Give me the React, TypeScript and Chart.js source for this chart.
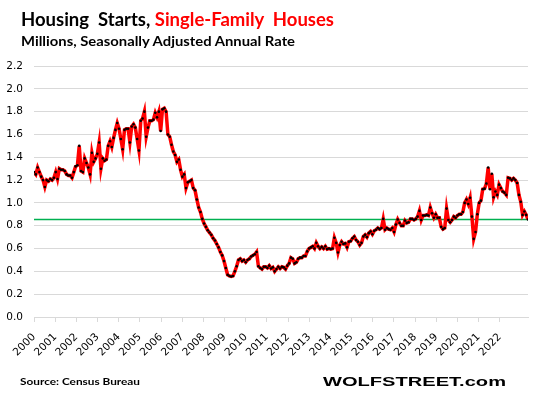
import React, { useEffect, useLayoutEffect, useRef } from "react";
import { Chart, registerables } from "chart.js";

Chart.register(...registerables);

// Year tick labels
const yearLabels = [
  "2000", "2001", "2002", "2003", "2004", "2005", "2006", "2007", "2008", "2009", "2010", "2011",
  "2012", "2013", "2014", "2015", "2016", "2017", "2018", "2019", "2020", "2021", "2022",
];

// Single-family housing starts, millions SAAR, monthly
const s2000 = [1.27, 1.25, 1.31, 1.27, 1.23, 1.2, 1.14, 1.2, 1.19, 1.21, 1.2, 1.22];
const s2001 = [1.27, 1.21, 1.3, 1.29, 1.29, 1.28, 1.25, 1.24, 1.24, 1.22, 1.27, 1.32];
const s2002 = [1.33, 1.5, 1.28, 1.27, 1.39, 1.35, 1.31, 1.25, 1.44, 1.36, 1.39, 1.43];
const s2003 = [1.53, 1.3, 1.39, 1.37, 1.38, 1.5, 1.54, 1.49, 1.57, 1.64, 1.7, 1.65];
const s2004 = [1.56, 1.47, 1.64, 1.65, 1.65, 1.53, 1.67, 1.69, 1.66, 1.56, 1.46, 1.72];
const s2005 = [1.74, 1.8, 1.58, 1.66, 1.72, 1.72, 1.73, 1.79, 1.75, 1.8, 1.63, 1.82];
const s2006 = [1.83, 1.8, 1.6, 1.58, 1.51, 1.45, 1.42, 1.36, 1.38, 1.29, 1.23, 1.25];
const s2007 = [1.13, 1.18, 1.19, 1.2, 1.13, 1.11, 1.03, 0.96, 0.92, 0.86, 0.82, 0.79];
const s2008 = [0.76, 0.74, 0.72, 0.69, 0.67, 0.64, 0.61, 0.57, 0.54, 0.49, 0.43, 0.37];
const s2009 = [0.36, 0.355, 0.36, 0.4, 0.445, 0.5, 0.51, 0.49, 0.5, 0.48, 0.5, 0.51];
const s2010 = [0.53, 0.54, 0.55, 0.57, 0.445, 0.43, 0.42, 0.44, 0.44, 0.43, 0.45, 0.425];
const s2011 = [0.435, 0.4, 0.42, 0.44, 0.425, 0.44, 0.435, 0.42, 0.45, 0.47, 0.52, 0.51];
const s2012 = [0.47, 0.48, 0.51, 0.52, 0.52, 0.535, 0.535, 0.575, 0.6, 0.61, 0.62, 0.6];
const s2013 = [0.65, 0.62, 0.6, 0.615, 0.6, 0.62, 0.595, 0.6, 0.595, 0.6, 0.695, 0.65];
const s2014 = [0.565, 0.63, 0.66, 0.64, 0.645, 0.61, 0.66, 0.665, 0.69, 0.705, 0.675, 0.66];
const s2015 = [0.63, 0.65, 0.705, 0.72, 0.7, 0.735, 0.75, 0.725, 0.755, 0.765, 0.78, 0.77];
const s2016 = [0.78, 0.86, 0.765, 0.78, 0.77, 0.765, 0.78, 0.745, 0.81, 0.855, 0.825, 0.8];
const s2017 = [0.8, 0.845, 0.825, 0.83, 0.86, 0.86, 0.85, 0.86, 0.88, 0.93, 0.85, 0.89];
const s2018 = [0.89, 0.895, 0.89, 0.96, 0.91, 0.87, 0.9, 0.87, 0.87, 0.79, 0.77, 0.78];
const s2019 = [0.95, 0.85, 0.83, 0.85, 0.88, 0.87, 0.89, 0.9, 0.9, 0.92, 1.0, 1.03];
const s2020 = [0.99, 1.045, 0.88, 0.685, 0.745, 0.9, 1.0, 1.02, 1.12, 1.125, 1.17, 1.31];
const s2021 = [1.12, 1.255, 1.05, 1.1, 1.07, 1.16, 1.13, 1.1, 1.09, 1.07, 1.22, 1.215];
const s2022 = [1.2, 1.215, 1.2, 1.175, 1.07, 1.01, 0.895, 0.925, 0.895, 0.855];

const starts = [
  ...s2000, ...s2001, ...s2002, ...s2003, ...s2004, ...s2005, ...s2006, ...s2007,
  ...s2008, ...s2009, ...s2010, ...s2011, ...s2012, ...s2013, ...s2014, ...s2015,
  ...s2016, ...s2017, ...s2018, ...s2019, ...s2020, ...s2021, ...s2022,
];

const yMin = 0;
const yMax = 2.2;
const yStep = 0.2;
// spacing of the year ticks on the reference's category axis, in data points
const yearTickSpacing = 11.7;

function FitText(props: {
  left: number; top: number; size: number; family: string; weight?: number | string;
  target: number; color?: string; children: React.ReactNode;
}) {
  const ref = useRef<HTMLSpanElement>(null);
  useLayoutEffect(() => {
    const el = ref.current;
    if (!el) return;
    el.style.transform = "none";
    const w = el.getBoundingClientRect().width;
    if (w > 0) el.style.transform = `scaleX(${props.target / w})`;
  }, []);
  return (
    <span
      ref={ref}
      style={{
        position: "absolute", left: props.left, top: props.top, fontSize: props.size,
        fontFamily: props.family, fontWeight: props.weight ?? 700, lineHeight: 1,
        whiteSpace: "nowrap", transformOrigin: "0 0", display: "inline-block",
        color: props.color ?? "#000",
      }}
    >
      {props.children}
    </span>
  );
}

export default function App() {
  const ref = useRef<HTMLCanvasElement>(null);

  useEffect(() => {
    const canvas = ref.current;
    if (!canvas) return;
    const level = starts[starts.length - 1];
    const tickFont = { family: "'DejaVu Sans', Verdana, sans-serif", size: 10.5 };
    const chart = new Chart(canvas, {
      type: "line",
      data: {
        datasets: [
          {
            data: starts.map((v, i) => ({ x: i, y: v })),
            borderColor: "#ff0000",
            borderWidth: 3.5,
            pointRadius: 1.3,
            pointBackgroundColor: "#000000",
            pointBorderWidth: 0,
            tension: 0,
          },
          {
            data: [{ x: 0, y: level }, { x: starts.length - 1, y: level }],
            borderColor: "#00b050",
            borderWidth: 1.5,
            pointRadius: 0,
            tension: 0,
          },
        ],
      },
      options: {
        responsive: false,
        animation: false,
        layout: { padding: { top: 66, right: 5, left: 0, bottom: 0 } },
        plugins: { legend: { display: false }, tooltip: { enabled: false } },
        scales: {
          x: {
            type: "linear",
            min: 0,
            max: starts.length - 1,
            afterBuildTicks: (s: any) => {
              s.ticks = yearLabels.map((_, k) => ({ value: k * yearTickSpacing }));
            },
            afterFit: (s: any) => {
              s.height = 399 - 317;
            },
            ticks: {
              autoSkip: false,
              maxRotation: 45,
              minRotation: 45,
              padding: 9,
              color: "#000",
              font: tickFont,
              callback: (_v: any, idx: number) => yearLabels[idx] ?? "",
            },
            grid: { drawOnChartArea: false, drawTicks: true, tickLength: 5, color: "#d9d9d9" },
            border: { display: true, color: "#d9d9d9" },
          },
          y: {
            min: yMin,
            max: yMax,
            afterFit: (s: any) => {
              s.width = 34;
            },
            ticks: {
              stepSize: yStep,
              padding: 11,
              color: "#000",
              font: tickFont,
              callback: (v: any) => Number(v).toFixed(1),
            },
            grid: { color: "#d9d9d9", drawTicks: false, lineWidth: 1 },
            border: { display: false },
          },
        },
      },
    } as any);
    return () => chart.destroy();
  }, []);

  return (
    <div style={{ position: "fixed", left: 0, top: 0, width: 533, height: 399, background: "#fff", overflow: "hidden" }}>
      <canvas ref={ref} width={533} height={399} style={{ position: "absolute", left: 0, top: 0 }} />
      <FitText left={21} top={9.5} size={18.6} family="Lato, 'Open Sans', sans-serif" target={313}>
        Housing&nbsp; Starts, <span style={{ color: "#ff0000" }}>Single-Family&nbsp; Houses</span>
      </FitText>
      <FitText left={21} top={35.2} size={13} family="Lato, 'Open Sans', sans-serif" target={274}>
        Millions, Seasonally Adjusted Annual Rate
      </FitText>
      <FitText left={20} top={376} size={10} family="Lato, 'Open Sans', sans-serif" target={120}>
        Source: Census Bureau
      </FitText>
      <FitText left={323} top={375} size={13} family="'Liberation Sans', Arial, sans-serif" target={183}>
        WOLFSTREET.com
      </FitText>
    </div>
  );
}
